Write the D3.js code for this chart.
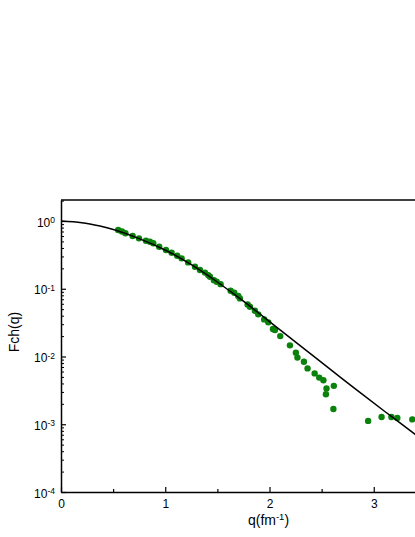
<!DOCTYPE html>
<html>
<head>
<meta charset="utf-8">
<script src="https://cdn.jsdelivr.net/npm/d3@7/dist/d3.min.js"></script>
<style>
  html, body { margin: 0; padding: 0; background: #fff; }
  svg { display: block; font-family: "Liberation Sans", Arial, sans-serif; }
</style>
</head>
<body>
<svg id="chart" width="415" height="537"></svg>
<script>
// ---- data ----
const dataQ = [0.549, 0.585, 0.618, 0.687, 0.748, 0.815, 0.853, 0.885, 0.942, 1.007,
  1.061, 1.115, 1.157, 1.220, 1.285, 1.333, 1.381, 1.412, 1.429, 1.467,
  1.493, 1.531, 1.627, 1.662, 1.700, 1.716, 1.790, 1.812, 1.860, 1.892,
  1.949, 1.988, 2.033, 2.052, 2.103, 2.196, 2.253, 2.268, 2.330, 2.365,
  2.433, 2.477, 2.517, 2.547, 2.541, 2.617, 2.613, 2.946, 3.075, 3.169,
  3.226, 3.370];
const dataF = [0.736, 0.700, 0.658, 0.600, 0.555, 0.512, 0.494, 0.469, 0.417, 0.373,
  0.340, 0.307, 0.281, 0.245, 0.211, 0.189, 0.173, 0.159, 0.150, 0.134,
  0.127, 0.117, 0.0933, 0.0872, 0.0780, 0.0721, 0.0588, 0.0542, 0.0473, 0.0419,
  0.0353, 0.0319, 0.0254, 0.0246, 0.0200, 0.0146, 0.0114, 0.00963, 0.00835, 0.00667,
  0.00563, 0.00488, 0.00445, 0.00338, 0.00277, 0.00369, 0.00168, 0.00112, 0.00128, 0.00128,
  0.00124, 0.00118];

// theory curve, read at a few q values
const curveQ = [0, 0.2, 0.374, 0.518, 0.75, 1.007, 1.25, 1.493, 1.75, 1.994,
  2.196, 2.45, 2.675, 2.867, 3.1, 3.394, 3.6];
const curveF = [1, 0.944, 0.841, 0.736, 0.550, 0.367, 0.227, 0.128, 0.0655, 0.0333,
  0.0190, 0.00938, 0.00501, 0.00295, 0.00157, 0.000715, 0.000414];

const xTicks = [0, 1, 2, 3];
const xMinorTicks = [0.5, 1.5, 2.5, 3.5];
const yTickExps = [0, -1, -2, -3, -4];
const xTitle = "q(fm";
const xTitleSup = "-1";
const yTitle = "Fch(q)";

// ---- layout ----
const svg = d3.select("#chart");
const mLeft = 61, mTop = 200, mRight = 478, mBottom = 492;

const x = d3.scaleLinear().domain([0, 4]).range([mLeft, mRight]);
const y = d3.scaleLog().domain([1e-4, Math.pow(10, 0.31)]).range([mBottom, mTop]);

// minor log ticks
const yMinor = [];
yTickExps.forEach(e => {
  for (let m = 2; m <= 9; m++) {
    const v = m * Math.pow(10, e);
    if (v <= y.domain()[1] * 0.999) yMinor.push(v);
  }
});

// ---- points ----
svg.append("g").selectAll("circle")
  .data(dataQ.map((q, i) => [q, dataF[i]]))
  .join("circle")
  .attr("cx", d => x(d[0]))
  .attr("cy", d => y(d[1]))
  .attr("r", 3.2)
  .attr("fill", "#0b820b");

// ---- curve ----
const line = d3.line()
  .x(d => x(d[0]))
  .y(d => y(d[1]))
  .curve(d3.curveNatural);
svg.append("path")
  .datum(curveQ.map((q, i) => [q, curveF[i]]))
  .attr("d", line)
  .attr("fill", "none")
  .attr("stroke", "#000")
  .attr("stroke-width", 1.5);

// ---- frame (top / right) ----
svg.append("line").attr("x1", mLeft).attr("x2", mRight).attr("y1", mTop).attr("y2", mTop)
  .attr("stroke", "#000").attr("stroke-width", 1.5);
svg.append("line").attr("x1", mRight).attr("x2", mRight).attr("y1", mTop).attr("y2", mBottom)
  .attr("stroke", "#000").attr("stroke-width", 1.5);

// ---- x axis ----
const gx = svg.append("g").attr("transform", `translate(0,${mBottom})`)
  .call(d3.axisBottom(x).tickValues(xTicks).tickSize(-5).tickSizeOuter(0).tickPadding(7)
    .tickFormat(d3.format("d")));
gx.select(".domain").attr("stroke-width", 1.5);
gx.selectAll(".tick line").attr("stroke-width", 1.2);
gx.selectAll("text").attr("font-size", 12).attr("fill", "#000")
  .attr("font-family", "Liberation Sans, Arial, sans-serif");

const gxm = svg.append("g").attr("transform", `translate(0,${mBottom})`)
  .call(d3.axisBottom(x).tickValues(xMinorTicks).tickSize(-3).tickSizeOuter(0).tickFormat(""));
gxm.select(".domain").remove();
gxm.selectAll(".tick line").attr("stroke-width", 1.2);

// ---- y axis ----
const gy = svg.append("g").attr("transform", `translate(${mLeft},0)`)
  .call(d3.axisLeft(y).tickValues(yTickExps.map(e => Math.pow(10, e)))
    .tickSize(-5).tickSizeOuter(0).tickFormat(""));
gy.select(".domain").attr("stroke-width", 1.5);
gy.selectAll(".tick line").attr("stroke-width", 1.2);
gy.selectAll(".tick").each(function(d) {
  const e = Math.round(Math.log10(d));
  const t = d3.select(this).append("text")
    .attr("x", -6).attr("y", 5)
    .attr("text-anchor", "end")
    .attr("fill", "#000")
    .attr("font-size", 12)
    .attr("font-family", "Liberation Sans, Arial, sans-serif");
  t.append("tspan").text("10");
  t.append("tspan").attr("dy", -3.5).attr("font-size", 8.5).text(String(e));
});

const gym = svg.append("g").attr("transform", `translate(${mLeft},0)`)
  .call(d3.axisLeft(y).tickValues(yMinor).tickSize(-3).tickSizeOuter(0).tickFormat(""));
gym.select(".domain").remove();
gym.selectAll(".tick line").attr("stroke-width", 1);

// ---- titles ----
const xt = svg.append("text")
  .attr("x", (mLeft + mRight) / 2 - 1).attr("y", 525)
  .attr("text-anchor", "middle").attr("font-size", 14).attr("fill", "#000");
xt.append("tspan").text(xTitle);
xt.append("tspan").attr("dy", -5).attr("font-size", 9.5).text(xTitleSup);
xt.append("tspan").attr("dy", 5).text(")");

svg.append("text")
  .attr("transform", `translate(18.5,332) rotate(-90)`)
  .attr("text-anchor", "middle").attr("font-size", 14).attr("fill", "#000")
  .text(yTitle);
</script>
</body>
</html>
